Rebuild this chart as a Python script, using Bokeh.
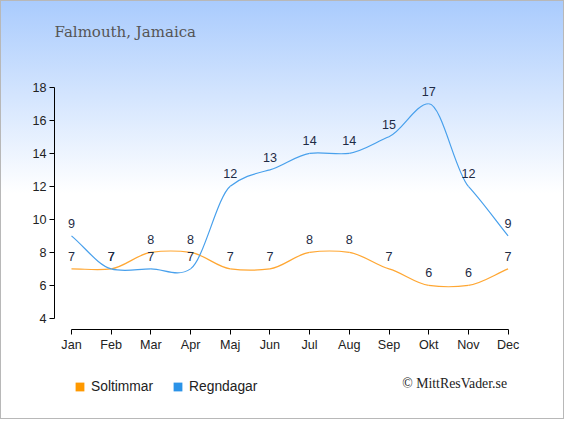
from bokeh.plotting import figure
from bokeh.layouts import column
from bokeh.models import FixedTicker, Label, Legend, LegendItem, ColumnDataSource, Range1d
from bokeh.embed import file_html
from bokeh.resources import INLINE
from bokeh.core.properties import value

# ---- data ----
months = ["Jan", "Feb", "Mar", "Apr", "Maj", "Jun", "Jul", "Aug", "Sep", "Okt", "Nov", "Dec"]
sun_hours = [7, 7, 8, 8, 7, 7, 8, 8, 7, 6, 6, 7]
rain_days = [9, 7, 7, 7, 12, 13, 14, 14, 15, 17, 12, 9]
y_ticks = [4, 6, 8, 10, 12, 14, 16, 18]
title_text = "Falmouth, Jamaica"
credit_text = "\u00a9 MittResVader.se"
series_names = ["Soltimmar", "Regndagar"]

ORANGE = "#ffa733"
BLUE = "#48a0ec"
LABEL_COLOR = "#1e2b45"
W = 564
LEFT, RIGHT = 54, 39


def smooth_segments(vals, k=0.65):
    """Bezier control points for a smoothed line through the data points."""
    n = len(vals)
    tang = []
    for i in range(n):
        if i == 0:
            t = vals[1] - vals[0]
        elif i == n - 1:
            t = vals[-1] - vals[-2]
        else:
            a, b, c = vals[i - 1], vals[i], vals[i + 1]
            if (b > a and b > c) or (b < a and b < c):
                t = 0.0
            else:
                t = (c - a) / 2.0 * k
        tang.append(t)
    xs = list(range(n))
    return ColumnDataSource(dict(
        x0=xs[:-1], y0=vals[:-1], x1=xs[1:], y1=vals[1:],
        cx0=[x + 1 / 3 for x in xs[:-1]],
        cy0=[v + m / 3 for v, m in zip(vals[:-1], tang[:-1])],
        cx1=[x - 1 / 3 for x in xs[1:]],
        cy1=[v - m / 3 for v, m in zip(vals[1:], tang[1:])],
    ))


# ---- main chart (frame reaches the top so the title fits inside) ----
p = figure(frame_width=W - LEFT - RIGHT, frame_height=329, output_backend="svg",
           toolbar_location=None,
           x_range=(-0.428, 11.439), y_range=(3.328, 23.255),
           min_border_left=LEFT, min_border_right=RIGHT, min_border_top=0, min_border_bottom=30)
p.border_fill_color = None
p.background_fill_color = None
p.outline_line_color = None
p.grid.visible = False

p.xaxis.ticker = FixedTicker(ticks=list(range(len(months))))
p.xaxis.major_label_overrides = {i: m for i, m in enumerate(months)}
p.xaxis.bounds = (0, len(months) - 1)
p.yaxis.ticker = FixedTicker(ticks=y_ticks)
p.yaxis.bounds = (y_ticks[0], y_ticks[-1])
for ax in (p.xaxis, p.yaxis):
    ax.axis_line_color = "#000000"
    ax.major_tick_line_color = "#000000"
    ax.major_tick_out = 5
    ax.major_tick_in = 0
    ax.minor_tick_line_color = None
    ax.major_label_text_font = "Liberation Sans"
    ax.major_label_text_font_size = "12.6px"
    ax.major_label_text_color = "#222222"
    ax.major_label_standoff = 3

p.bezier(x0="x0", y0="y0", x1="x1", y1="y1", cx0="cx0", cy0="cy0", cx1="cx1", cy1="cy1",
         source=smooth_segments(sun_hours), line_color=ORANGE, line_width=1.2)
p.bezier(x0="x0", y0="y0", x1="x1", y1="y1", cx0="cx0", cy0="cy0", cx1="cx1", cy1="cy1",
         source=smooth_segments(rain_days), line_color=BLUE, line_width=1.2)

for vals in (sun_hours, rain_days):
    p.text(x=list(range(len(vals))), y=vals, text=[str(v) for v in vals],
           y_offset=-12.5, text_align="center", text_baseline="middle",
           text_font=value("Liberation Sans"), text_font_size="12.6px", text_color=LABEL_COLOR)

p.add_layout(Label(x=0, y=298, x_units="screen", y_units="screen", text=title_text,
                   text_font="DejaVu Serif", text_font_size="15px", text_color="#555555",
                   text_align="left", text_baseline="middle"))

# ---- legend strip ----
SH = 60
bot = figure(width=W, height=SH, output_backend="svg", toolbar_location=None,
             x_range=Range1d(LEFT, W - RIGHT), y_range=Range1d(SH, 0),
             x_axis_location=None, y_axis_location=None,
             min_border_left=LEFT, min_border_right=RIGHT, min_border_top=0, min_border_bottom=0)
bot.border_fill_color = None
bot.background_fill_color = None
bot.outline_line_color = None
bot.grid.visible = False

sq_sun = bot.quad(left=[0], right=[0], top=[sun_hours[0]], bottom=[sun_hours[0]],
                  fill_color="#ff9900", line_color=None, visible=False)
sq_rain = bot.quad(left=[0], right=[0], top=[rain_days[0]], bottom=[rain_days[0]],
                   fill_color="#2b93e8", line_color=None, visible=False)
legend = Legend(items=[LegendItem(label=series_names[0], renderers=[sq_sun]),
                       LegendItem(label=series_names[1], renderers=[sq_rain])],
                orientation="horizontal", location=(20, 25),
                glyph_width=11, glyph_height=11, label_standoff=6, spacing=19,
                padding=0, margin=0, border_line_color=None, background_fill_color=None,
                inactive_fill_alpha=0,
                label_text_font="Liberation Sans", label_text_font_size="13.8px",
                label_text_color="#222222")
bot.add_layout(legend)
bot.add_layout(Label(x=506.5, y=23.5, text=credit_text,
                     text_font="Liberation Serif", text_font_size="13.8px", text_color="#222222",
                     text_align="right", text_baseline="middle"))

page = column(p, bot, spacing=0)
page.styles = {"background-image": "linear-gradient(#a9cbfd, #ffffff 193px)",
               "box-shadow": "inset 0 0 0 1px #b8b8b8"}

open("out.html", "w").write(file_html(page, INLINE))
